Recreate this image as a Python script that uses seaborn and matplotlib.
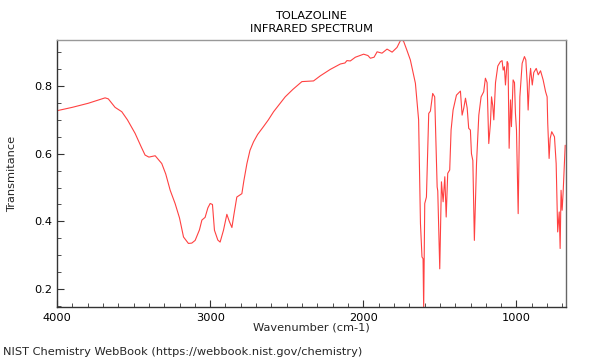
import matplotlib
matplotlib.use('Agg')
import matplotlib.pyplot as plt
from matplotlib.ticker import MultipleLocator
import seaborn as sns
import pandas as pd

# spectrum (wavenumber in cm-1, transmittance)
wavenumber = [4000, 3900, 3796, 3720, 3686, 3665, 3640, 3621, 3577, 3540,
              3490, 3450, 3425, 3400, 3359, 3316, 3290, 3261, 3229, 3200,
              3174, 3142, 3120, 3098, 3070, 3054, 3033, 3015, 3000, 2985,
              2972, 2950, 2935, 2913, 2891, 2875, 2858, 2845, 2826, 2800,
              2793, 2780, 2760, 2740, 2717, 2690, 2652, 2620, 2586, 2550,
              2510, 2460, 2401, 2325, 2281, 2216, 2150, 2120, 2107, 2085,
              2052, 1998, 1970, 1954, 1930, 1910, 1878, 1845, 1812, 1780,
              1758, 1747, 1737, 1715, 1693, 1660, 1639, 1627, 1617, 1610,
              1606, 1599, 1588, 1573, 1562, 1547, 1534, 1518, 1514, 1501,
              1490, 1479, 1468, 1459, 1449, 1436, 1427, 1414, 1392, 1366,
              1355, 1344, 1333, 1322, 1312, 1301, 1294, 1285, 1275, 1261,
              1246, 1231, 1214, 1203, 1192, 1181, 1170, 1163, 1155, 1148,
              1137, 1122, 1105, 1094, 1087, 1079, 1072, 1061, 1055, 1048,
              1039, 1033, 1022, 1013, 1007, 1000, 989, 978, 963, 948,
              939, 930, 924, 915, 908, 897, 887, 871, 858, 843,
              826, 810, 800, 796, 787, 780, 770, 752, 741, 731,
              721, 715, 709, 702, 695, 682]
transmittance = [0.727, 0.737, 0.749, 0.760, 0.765, 0.762, 0.748, 0.737, 0.724, 0.700,
                 0.660, 0.620, 0.596, 0.590, 0.594, 0.571, 0.540, 0.492, 0.453, 0.410,
                 0.354, 0.335, 0.336, 0.344, 0.375, 0.404, 0.412, 0.440, 0.453, 0.450,
                 0.374, 0.345, 0.339, 0.374, 0.421, 0.400, 0.382, 0.420, 0.472, 0.480,
                 0.482, 0.520, 0.571, 0.610, 0.635, 0.657, 0.680, 0.700, 0.724, 0.745,
                 0.768, 0.790, 0.813, 0.815, 0.830, 0.849, 0.865, 0.868, 0.875, 0.874,
                 0.885, 0.894, 0.890, 0.882, 0.885, 0.901, 0.897, 0.909, 0.900, 0.914,
                 0.934, 0.936, 0.932, 0.905, 0.877, 0.808, 0.700, 0.394, 0.295, 0.290,
                 0.140, 0.453, 0.472, 0.719, 0.726, 0.778, 0.768, 0.502, 0.490, 0.260,
                 0.517, 0.458, 0.532, 0.413, 0.542, 0.552, 0.670, 0.729, 0.773, 0.785,
                 0.714, 0.735, 0.764, 0.735, 0.675, 0.670, 0.600, 0.580, 0.344, 0.571,
                 0.714, 0.768, 0.783, 0.823, 0.810, 0.630, 0.690, 0.768, 0.742, 0.700,
                 0.810, 0.859, 0.872, 0.875, 0.847, 0.857, 0.803, 0.872, 0.867, 0.616,
                 0.759, 0.680, 0.818, 0.810, 0.720, 0.670, 0.423, 0.768, 0.867, 0.887,
                 0.877, 0.808, 0.729, 0.818, 0.852, 0.803, 0.840, 0.852, 0.833, 0.845,
                 0.818, 0.783, 0.768, 0.690, 0.586, 0.645, 0.665, 0.650, 0.571, 0.369,
                 0.428, 0.320, 0.492, 0.433, 0.490, 0.625]

df = pd.DataFrame({'wavenumber': wavenumber, 'transmittance': transmittance})

sns.set_style('ticks')
plt.rcParams['font.family'] = ['DejaVu Sans']

fig = plt.figure(figsize=(6, 3.6), dpi=100)
ax = fig.add_axes([0.095, 0.147, 0.8475, 0.742])

sns.lineplot(data=df, x='wavenumber', y='transmittance', sort=False,
             color='#ff2020', linewidth=0.8, alpha=0.85, ax=ax)

ax.set_xlim(4000, 680)
ax.set_ylim(0.147, 0.936)

ax.xaxis.set_major_locator(MultipleLocator(1000))
ax.xaxis.set_minor_locator(MultipleLocator(100))
ax.yaxis.set_major_locator(MultipleLocator(0.2))
ax.yaxis.set_minor_locator(MultipleLocator(0.05))
ax.tick_params(which='both', direction='in', labelsize=8.2, color='#333333',
               labelcolor='black', bottom=True, left=True, top=False, right=False)
ax.tick_params(which='major', length=5, width=0.8)
ax.tick_params(which='minor', length=3, width=0.6)
ax.tick_params(axis='x', pad=4)

for side in ['left', 'bottom']:
    ax.spines[side].set_color('#333333')
ax.spines['top'].set_color('#999999')
ax.spines['right'].set_color('#666666')
for s in ax.spines.values():
    s.set_visible(True)
    s.set_linewidth(1.0)

ax.set_xlabel('Wavenumber (cm-1)', fontsize=8.2, labelpad=0)
ax.set_ylabel('Transmitance', fontsize=8.2, labelpad=12)
ax.set_title('TOLAZOLINE\nINFRARED SPECTRUM', fontsize=8.2, pad=6,
             linespacing=1.3, color='black')

fig.text(0.005, 0.022, 'NIST Chemistry WebBook (https://webbook.nist.gov/chemistry)',
         fontsize=8.2, va='center', ha='left')

fig.savefig('out.png', dpi=100)
